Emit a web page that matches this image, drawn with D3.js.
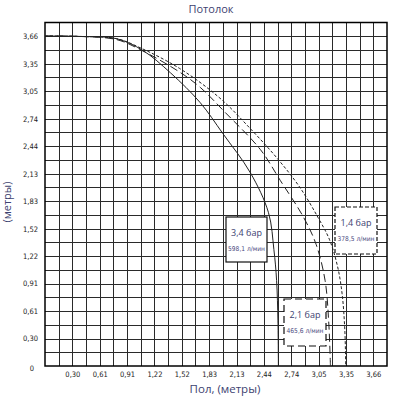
<!DOCTYPE html>
<html>
<head>
<meta charset="utf-8">
<script src="https://cdn.jsdelivr.net/npm/d3@7"></script>
<style>
  body { margin: 0; background: #fff; }
  svg text { font-family: "Liberation Sans", sans-serif; }
</style>
</head>
<body>
<div id="chart"></div>
<script>
// tick labels (metres, as printed)
var xLabels = ["0,30","0,61","0,91","1,22","1,52","1,83","2,13","2,44","2,74","3,05","3,35","3,66"]
var yLabels = ["0","0,30","0,61","0,91","1,22","1,52","1,83","2,13","2,44","2,74","3,05","3,35","3,66"]
var FT = 0.3048

// curves: [x metres, y metres]
var curve34 = [[0,3.66],[0.4,3.655],[0.8,3.63],[1.09,3.50],[1.4,3.25],[1.73,2.92],[1.98,2.58],[2.29,2.14],[2.49,1.70],[2.55,1.29],[2.58,0.95],[2.595,0.5],[2.60,0]]
var curve21 = [[0,3.66],[0.4,3.655],[0.8,3.62],[1.06,3.51],[1.5,3.26],[1.73,3.09],[2.0,2.82],[2.40,2.40],[2.62,2.06],[2.88,1.65],[3.02,1.35],[3.12,0.95],[3.16,0.5],[3.18,0]]
var curve14 = [[0,3.66],[0.4,3.655],[0.8,3.63],[1.06,3.53],[1.5,3.30],[1.95,2.97],[2.29,2.63],[2.59,2.30],[2.84,1.98],[3.04,1.65],[3.17,1.40],[3.26,1.10],[3.31,0.80],[3.34,0.40],[3.35,0]]

var series = [
  {name:"3,4 бар", flow:"598,1 л/мин", pts:curve34, dash:null,  boxDash:null,  box:[226,217,267,262]},
  {name:"2,1 бар", flow:"465,6 л/мин", pts:curve21, dash:"8,4", boxDash:"7,4", box:[284,299,326,346]},
  {name:"1,4 бар", flow:"378,5 л/мин", pts:curve14, dash:"3,2", boxDash:"4,2", box:[335,207,377,254]}
]

var W = 395, H = 401
var svg = d3.select("#chart").append("svg").attr("width",W).attr("height",H)

var x = d3.scaleLinear().domain([0, 12.5*FT]).range([45, 387])
var y = d3.scaleLinear().domain([0, 12.5*FT]).range([366, 22.5])

// grid every half foot
var grid = d3.range(1,25).map(function(k){ return k*FT/2 })
var g = svg.append("g")
g.selectAll(".vg").data(grid).enter().append("line")
  .attr("x1",function(d){return Math.round(x(d))+0.5}).attr("x2",function(d){return Math.round(x(d))+0.5})
  .attr("y1",y.range()[1]).attr("y2",y.range()[0])
  .attr("stroke","#2a2a2a").attr("stroke-width",1)
g.selectAll(".hg").data(grid).enter().append("line")
  .attr("y1",function(d){return Math.round(y(d))+0.5}).attr("y2",function(d){return Math.round(y(d))+0.5})
  .attr("x1",x.range()[0]).attr("x2",x.range()[1])
  .attr("stroke","#2a2a2a").attr("stroke-width",1)

g.append("rect").attr("x",45).attr("y",22.5).attr("width",342).attr("height",343.5)
  .attr("fill","none").attr("stroke","#000").attr("stroke-width",1.5)

// axes
var xAxis = d3.axisBottom(x).tickValues(d3.range(1,13).map(function(k){return k*FT}))
  .tickFormat(function(d,i){return xLabels[i]}).tickSize(0).tickPadding(6)
var ax = svg.append("g").attr("transform","translate(0,366)").call(xAxis)
ax.select(".domain").remove()
ax.selectAll("text").attr("fill","#222")
  .style("font-family","'DejaVu Sans Condensed', sans-serif").attr("font-size",7.5)

var yAxis = d3.axisLeft(y).tickValues(d3.range(0,13).map(function(k){return k*FT}))
  .tickFormat(function(d,i){return yLabels[i]}).tickSize(0).tickPadding(7)
var ay = svg.append("g").attr("transform","translate(45,0)").call(yAxis)
ay.select(".domain").remove()
ay.selectAll("text").attr("fill","#222")
  .style("font-family","'DejaVu Sans Condensed', sans-serif").attr("font-size",7.5)
ay.selectAll("text").filter(function(d,i){return i==0}).attr("dx",-4).attr("dy","0.55em")

// curves
var line = d3.line().x(function(d){return x(d[0])}).y(function(d){return y(d[1])}).curve(d3.curveCatmullRom)
svg.selectAll(".curve").data(series).enter().append("path")
  .attr("d",function(d){return line(d.pts)})
  .attr("fill","none").attr("stroke","#222").attr("stroke-width",1)
  .attr("stroke-dasharray",function(d){return d.dash})

// label boxes
var bx = svg.selectAll(".box").data(series).enter().append("g")
bx.append("rect")
  .attr("x",function(d){return d.box[0]}).attr("y",function(d){return d.box[1]})
  .attr("width",function(d){return d.box[2]-d.box[0]}).attr("height",function(d){return d.box[3]-d.box[1]})
  .attr("fill","#fff").attr("stroke","#111").attr("stroke-width",1.2)
  .attr("stroke-dasharray",function(d){return d.boxDash})
bx.append("text")
  .attr("x",function(d){return (d.box[0]+d.box[2])/2}).attr("y",function(d){return d.box[1]+19})
  .attr("text-anchor","middle").attr("font-size",9).attr("fill","#3d4270")
  .style("font-family","'Open Sans', sans-serif")
  .text(function(d){return d.name})
bx.append("text")
  .attr("x",function(d){return (d.box[0]+d.box[2])/2}).attr("y",function(d){return d.box[1]+34})
  .attr("text-anchor","middle").attr("font-size",6.6).attr("fill","#4a4a80")
  .style("font-family","'DejaVu Sans Condensed', sans-serif")
  .text(function(d){return d.flow})

// titles
svg.append("text").attr("x",211).attr("y",13).attr("text-anchor","middle")
  .attr("font-size",11).attr("fill","#3d4270").style("font-family","'Open Sans', sans-serif")
  .text("Потолок")
svg.append("text").attr("x",225).attr("y",393).attr("text-anchor","middle")
  .attr("font-size",11.5).attr("fill","#3d4270").style("font-family","'Open Sans', sans-serif")
  .text("Пол, (метры)")
svg.append("text").attr("transform","translate(11,202) rotate(-90)").attr("text-anchor","middle")
  .attr("font-size",11).attr("fill","#3d4270").style("font-family","'Open Sans', sans-serif")
  .text("(метры)")
</script>
</body>
</html>
